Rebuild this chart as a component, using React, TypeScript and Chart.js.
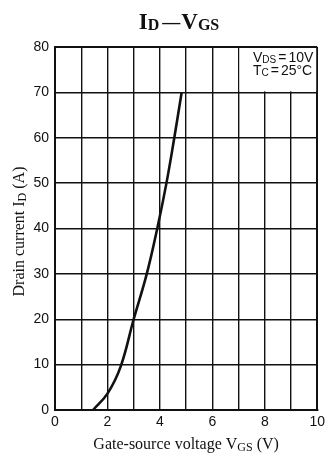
import React, { useEffect, useRef } from "react";
import { Chart, registerables } from "chart.js";

Chart.register(...registerables);

const vgsValues = [1.45, 2.0, 2.5, 3.0, 3.5, 3.9, 4.25, 4.55, 4.83];
const idValues = [0, 3.6, 9.5, 20, 30, 40, 50, 60, 70];
const xTickLabels = ["0", "2", "4", "6", "8", "10"];

const SERIF = '"Liberation Serif", "DejaVu Serif", serif';
const NARROW = '"Liberation Sans Narrow", "Liberation Sans", Arial, sans-serif';

type Seg = { t: string; font: string; dy: number; gap?: number };

function drawSegs(ctx: CanvasRenderingContext2D, segs: Seg[], x: number, y: number, align: "center" | "left") {
  let total = 0;
  const widths = segs.map((s) => {
    ctx.font = s.font;
    const w = ctx.measureText(s.t).width + (s.gap || 0);
    total += w;
    return w;
  });
  let cx = align === "center" ? x - total / 2 : x;
  ctx.textAlign = "left";
  ctx.textBaseline = "alphabetic";
  segs.forEach((s, i) => {
    ctx.font = s.font;
    ctx.fillText(s.t, cx, y + s.dy);
    cx += widths[i];
  });
}

const textPlugin = {
  id: "customText",
  afterDraw(chart: any) {
    const ctx: CanvasRenderingContext2D = chart.ctx;
    const xs = chart.scales.x;
    const ys = chart.scales.y;
    const ca = chart.chartArea;
    ctx.save();
    ctx.fillStyle = "#111";

    // main title
    drawSegs(
      ctx,
      [
        { t: "I", font: `bold 23px ${SERIF}`, dy: 0 },
        { t: "D", font: `bold 16px ${SERIF}`, dy: 1, gap: 3 },
        { t: "—", font: `bold 18px ${SERIF}`, dy: -1, gap: 1 },
        { t: "V", font: `bold 23px ${SERIF}`, dy: 0 },
        { t: "GS", font: `bold 16px ${SERIF}`, dy: 1 },
      ],
      179,
      29,
      "center"
    );

    // x axis title
    drawSegs(
      ctx,
      [
        { t: "Gate-source voltage V", font: `16px ${SERIF}`, dy: 0 },
        { t: "GS", font: `12px ${SERIF}`, dy: 2 },
        { t: " (V)", font: `16px ${SERIF}`, dy: 0 },
      ],
      (ca.left + ca.right) / 2,
      449,
      "center"
    );

    // y axis title
    ctx.save();
    ctx.translate(24, (ca.top + ca.bottom) / 2 + 3);
    ctx.rotate(-Math.PI / 2);
    drawSegs(
      ctx,
      [
        { t: "Drain current I", font: `16px ${SERIF}`, dy: 0 },
        { t: "D", font: `12px ${SERIF}`, dy: 2 },
        { t: " (A)", font: `16px ${SERIF}`, dy: 0 },
      ],
      0,
      0,
      "center"
    );
    ctx.restore();

    // condition box
    const bx0 = xs.getPixelForValue(7) + 1;
    const bx1 = xs.getPixelForValue(10) - 1;
    const by0 = ys.getPixelForValue(80) + 1;
    const by1 = ys.getPixelForValue(70) - 1;
    ctx.fillStyle = "#fff";
    ctx.fillRect(bx0, by0, bx1 - bx0, by1 - by0);
    ctx.fillStyle = "#111";
    drawSegs(
      ctx,
      [
        { t: "V", font: `14px ${NARROW}`, dy: 0 },
        { t: "DS", font: `10px ${NARROW}`, dy: 1, gap: 2 },
        { t: "=", font: `14px ${NARROW}`, dy: 0, gap: 2 },
        { t: "10V", font: `14px ${NARROW}`, dy: 0 },
      ],
      253,
      62,
      "left"
    );
    drawSegs(
      ctx,
      [
        { t: "T", font: `14px ${NARROW}`, dy: 0 },
        { t: "C", font: `10px ${NARROW}`, dy: 1, gap: 2 },
        { t: "=", font: `14px ${NARROW}`, dy: 0, gap: 2 },
        { t: "25°C", font: `14px ${NARROW}`, dy: 0 },
      ],
      253,
      75,
      "left"
    );
    ctx.restore();
  },
};

export default function App() {
  const ref = useRef<HTMLCanvasElement | null>(null);
  useEffect(() => {
    if (!ref.current) return;
    const chart = new Chart(ref.current, {
      type: "line",
      data: {
        datasets: [
          {
            data: vgsValues.map((v, i) => ({ x: v, y: idValues[i] })),
            borderColor: "#111",
            borderWidth: 2.6,
            pointRadius: 0,
            tension: 0.4,
            fill: false,
          },
        ],
      },
      options: {
        animation: false,
        responsive: false,
        devicePixelRatio: 1,
        layout: { padding: { top: 47, right: 8, left: 0, bottom: 0 } },
        plugins: { legend: { display: false }, tooltip: { enabled: false }, title: { display: false } },
        scales: {
          x: {
            type: "linear",
            min: 0,
            max: 10,
            afterFit(scale: any) {
              scale.height = 44;
            },
            grid: {
              color: "#111",
              lineWidth: (c: any) => (c.tick && c.tick.value === 10 ? 2 : 1.4),
              drawTicks: false,
            },
            border: { color: "#111", width: 2 },
            ticks: {
              stepSize: 1,
              autoSkip: false,
              maxRotation: 0,
              padding: 4,
              color: "#111",
              font: { family: NARROW, size: 14 },
              callback: (v: any) => (Number(v) % 2 === 0 ? xTickLabels[Number(v) / 2] : ""),
            },
          },
          y: {
            min: 0,
            max: 80,
            afterFit(scale: any) {
              scale.width = 55;
            },
            grid: {
              color: "#111",
              lineWidth: (c: any) => (c.tick && c.tick.value === 80 ? 2 : 1.4),
              drawTicks: false,
            },
            border: { color: "#111", width: 2 },
            ticks: {
              stepSize: 10,
              padding: 6,
              color: "#111",
              font: { family: NARROW, size: 14 },
            },
          },
        },
      },
      plugins: [textPlugin],
    } as any);
    return () => chart.destroy();
  }, []);
  return (
    <div style={{ position: "absolute", left: 0, top: 0, width: 329, height: 454, background: "#fff" }}>
      <canvas ref={ref} width={329} height={454} style={{ display: "block", width: 329, height: 454 }} />
    </div>
  );
}
